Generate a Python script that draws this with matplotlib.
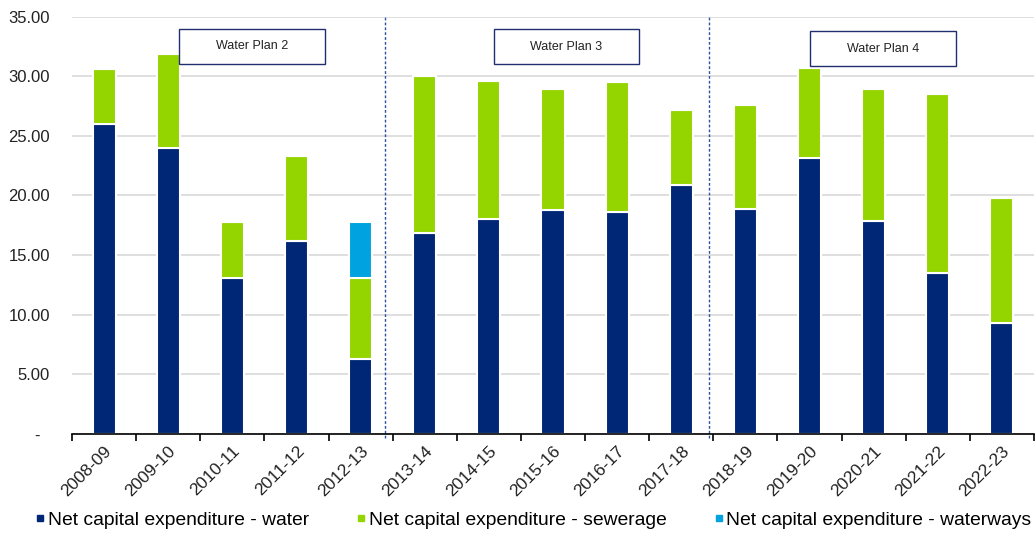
import matplotlib.pyplot as plt
import numpy as np
from matplotlib.lines import Line2D
from matplotlib.patches import Rectangle

plt.rcParams['font.family'] = ['Liberation Sans', 'DejaVu Sans']

# Data ($m)
years = ['2008-09', '2009-10', '2010-11', '2011-12', '2012-13', '2013-14', '2014-15',
         '2015-16', '2016-17', '2017-18', '2018-19', '2019-20', '2020-21', '2021-22', '2022-23']
water = [26.0, 24.0, 13.1, 16.2, 6.3, 16.85, 18.05, 18.75, 18.6, 20.85, 18.85, 23.15, 17.85, 13.5, 9.3]
sewerage = [4.6, 7.9, 4.7, 7.1, 6.8, 13.2, 11.55, 10.2, 10.95, 6.3, 8.7, 7.55, 11.1, 15.0, 10.5]
waterways = [0, 0, 0, 0, 4.7, 0, 0, 0, 0, 0, 0, 0, 0, 0, 0]

plan_labels = ['Water Plan 2', 'Water Plan 3', 'Water Plan 4']
plan_label_x = [2.31, 7.21, 12.15]
plan_label_y = [32.5, 32.45, 32.3]
plan_breaks = [4.38, 9.43]

c_water = '#002776'
c_sewer = '#94D500'
c_wway = '#00A3E0'

fig = plt.figure(figsize=(10.36, 5.34), dpi=100)
ax = fig.add_axes([0.0695, 0.1873, 0.9285, 0.7817])

x = np.arange(len(years))
water = np.array(water)
sewerage = np.array(sewerage)
waterways = np.array(waterways)

w = 0.36
ax.bar(x, water, w, color=c_water, edgecolor='white', linewidth=1.5, zorder=3)
ax.bar(x, sewerage, w, bottom=water, color=c_sewer, edgecolor='white', linewidth=1.5, zorder=3)
ax.bar(x, waterways, w, bottom=water + sewerage, color=c_wway, edgecolor='white', linewidth=1.5, zorder=3)

# Water plan separators
for b in plan_breaks:
    ax.plot([b, b], [-0.3, 35], color='#2F4F9F', linestyle=(0, (2, 1.5)), linewidth=1,
            clip_on=False, zorder=4)

# Water plan labels in boxes
bw, bh = 2.27, 2.93
for lbl, lx, ly in zip(plan_labels, plan_label_x, plan_label_y):
    ax.add_patch(Rectangle((lx - bw / 2, ly - bh / 2), bw, bh, facecolor='white',
                           edgecolor='#1F2F6F', linewidth=1, zorder=5))
    ax.text(lx, ly, lbl, ha='center', va='center', fontsize=9, color='#222222', zorder=6)

ax.set_xlim(-0.5, len(years) - 0.5)
ax.set_ylim(0, 35)

yt = np.arange(0, 36, 5)
ax.set_yticks(yt)
ax.set_yticklabels(['-  '] + ['%.2f' % v for v in yt[1:]], fontsize=12, color='#222222')
ax.tick_params(axis='y', length=0, pad=16)

ax.set_xticks(x)
ax.set_xticklabels(years, rotation=45, ha='right', rotation_mode='anchor', fontsize=12.5,
                   color='#222222')
ax.set_xticks(np.arange(-0.5, len(years), 1), minor=True)
ax.tick_params(axis='x', which='major', length=0, pad=7)
ax.tick_params(axis='x', which='minor', length=5, width=1.2, direction='out')

ax.grid(axis='y', color='#D9D9D9', linewidth=1.2, zorder=0)
ax.set_axisbelow(True)
for s in ['left', 'right', 'top']:
    ax.spines[s].set_visible(False)
ax.spines['bottom'].set_linewidth(1.2)
ax.spines['bottom'].set_zorder(5)

handles = [Line2D([], [], marker='s', linestyle='none', markersize=5, color=c)
           for c in (c_water, c_sewer, c_wway)]
labels = ['Net capital expenditure - water', 'Net capital expenditure - sewerage',
          'Net capital expenditure - waterways']
fig.legend(handles, labels, loc='center left', bbox_to_anchor=(0.0275, 0.026), ncol=3,
           frameon=False, fontsize=13.9, handlelength=0.4, handletextpad=0.2,
           columnspacing=2.5, borderaxespad=0)

plt.savefig('out.png', dpi=100)
